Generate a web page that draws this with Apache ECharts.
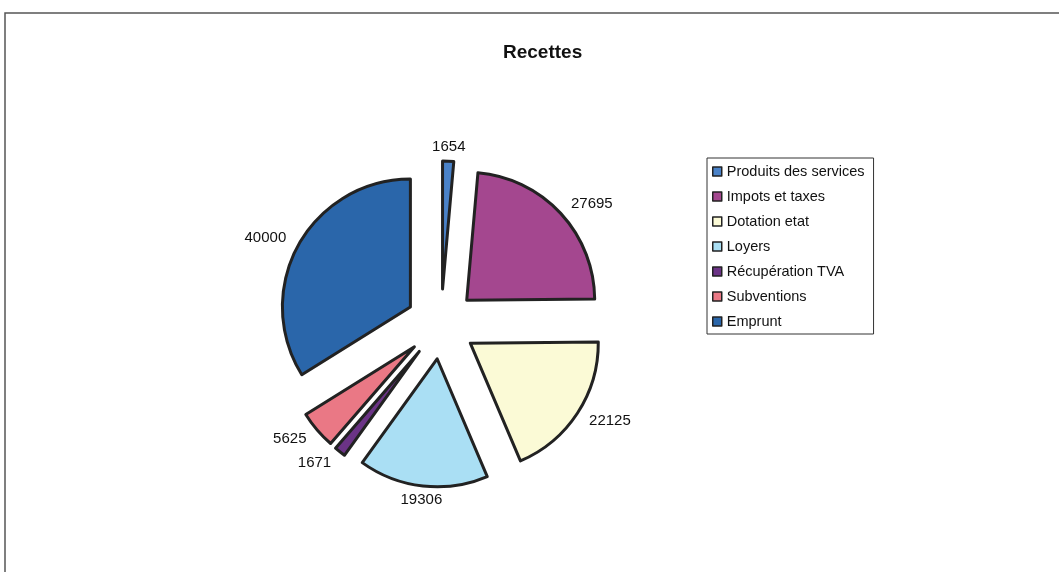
<!DOCTYPE html>
<html>
<head>
<meta charset="utf-8">
<style>
  html, body { margin: 0; padding: 0; background: #fff; }
  #chart { width: 1059px; height: 572px; }
</style>
<script src="https://cdn.jsdelivr.net/npm/echarts@6/dist/echarts.min.js"></script>
</head>
<body>
<div id="chart"></div>
<script>
// recettes
const categories = ['Produits des services', 'Impots et taxes', 'Dotation etat', 'Loyers', 'Récupération TVA', 'Subventions', 'Emprunt']
const values = [1654, 27695, 22125, 19306, 1671, 5625, 40000]
const colors = ['#4a82c8', '#a4478f', '#fbfad6', '#aadff4', '#6b3386', '#ea7885', '#2a66aa']

// mid angle of each slice (degrees, clockwise from 12 o'clock), used to center the top/bottom labels like excel does
const total = values.reduce((a, b) => a + b, 0)
let acc = 0
const midAngles = values.map(v => {
  const m = (acc + v / 2) / total * 360
  acc += v
  return m
})

const chart = echarts.init(document.getElementById('chart'))

const option = {
  backgroundColor: '#fff',
  animation: false,
  title: {
    text: 'Recettes',
    left: 503,
    top: 43,
    padding: 0,
    textStyle: { fontFamily: 'Liberation Sans', fontSize: 19, fontWeight: 'bold', color: '#111' }
  },
  legend: {
    orient: 'vertical',
    left: 707,
    top: 158,
    padding: [6, 9, 5, 5],
    itemGap: 10,
    itemWidth: 9,
    itemHeight: 9,
    icon: 'rect',
    borderColor: '#333',
    borderWidth: 1,
    selectedMode: false,
    itemStyle: { borderColor: '#222', borderWidth: 1.5 },
    textStyle: { fontFamily: 'Liberation Sans', fontSize: 14.5, lineHeight: 15, color: '#111' },
    data: categories
  },
  graphic: [{
    type: 'rect',
    shape: { x: 5, y: 13, width: 1100, height: 620 },
    style: { fill: 'none', stroke: '#555', lineWidth: 1.5 },
    silent: true
  }],
  series: [{
    type: 'pie',
    center: [441, 324],
    radius: 128,
    startAngle: 90,
    clockwise: true,
    selectedMode: 'multiple',
    selectedOffset: 35,
    avoidLabelOverlap: false,
    itemStyle: { borderColor: '#222', borderWidth: 3 },
    label: {
      show: true,
      position: 'outside',
      formatter: '{c}',
      distanceToLabelLine: 0,
      fontFamily: 'Liberation Sans',
      fontSize: 15,
      color: '#111'
    },
    labelLine: { show: false, length: 14, length2: 0 },
    labelLayout: function (p) {
      const a = midAngles[p.dataIndex]
      const nearVertical = a < 20 || a > 340 || Math.abs(a - 180) < 20
      return nearVertical ? { align: 'center' } : {}
    },
    emphasis: { disabled: true },
    data: categories.map((name, i) => ({
      name: name,
      value: values[i],
      selected: true,
      itemStyle: { color: colors[i] }
    }))
  }]
}
chart.setOption(option)
</script>
</body>
</html>
